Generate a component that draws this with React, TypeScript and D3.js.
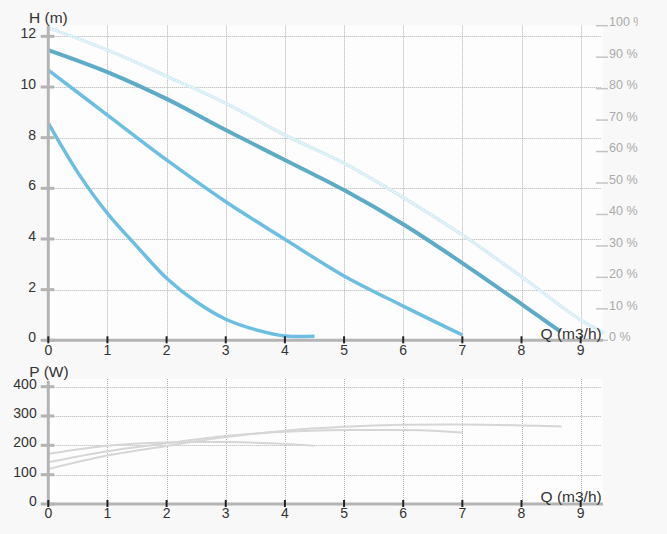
import React, { useEffect } from 'react';
import * as d3 from 'd3';

// ---- tick values ----
const qTicks = [0, 1, 2, 3, 4, 5, 6, 7, 8, 9];
const hTicks = [0, 2, 4, 6, 8, 10, 12];
const effTicks = [0, 10, 20, 30, 40, 50, 60, 70, 80, 90, 100];
const pTicks = [0, 100, 200, 300, 400];

// ---- head curves (Q m3/h, H m) ----
const hMaxQ = [0, 1, 2, 3, 4, 5, 6, 7, 8, 9, 9.41];
const hMaxH = [12.34, 11.46, 10.43, 9.36, 8.1, 6.99, 5.64, 4.16, 2.51, 0.8, 0.28];

const h3Q = [0, 1, 2, 3, 4, 5, 6, 7, 8, 8.66];
const h3H = [11.46, 10.59, 9.53, 8.3, 7.12, 5.93, 4.58, 3.05, 1.43, 0.34];

const h2Q = [0, 1, 2, 3, 4, 5, 6, 7];
const h2H = [10.67, 8.89, 7.12, 5.47, 3.99, 2.54, 1.35, 0.21];

const h1Q = [0, 0.5, 1, 1.5, 2, 2.5, 3, 3.5, 4, 4.5];
const h1H = [8.57, 6.62, 5.01, 3.7, 2.45, 1.52, 0.83, 0.42, 0.17, 0.16];

// ---- power curves (Q m3/h, P W) ----
const p3Q = [0, 1, 2, 3, 4, 5, 6, 7, 8, 8.68];
const p3P = [119, 165, 198, 228, 250, 263, 270, 271, 268, 264];

const p2Q = [0, 1, 2, 3, 4, 5, 6, 6.5, 7];
const p2P = [142, 180, 207, 232, 246, 252, 252, 250, 244];

const p1Q = [0, 1, 2, 3, 4, 4.5];
const p1P = [171, 199, 210, 211, 205, 199];

const FONT = '"Liberation Sans", Arial, sans-serif';

const zip = (a: number[], b: number[]) => a.map((v, i) => [v, b[i]] as [number, number]);
const snap = (v: number) => Math.round(v) + 0.5;

export default function App() {
  useEffect(() => {
    document.body.style.background = '#f8f8f8';
  }, []);

  const W = 630;
  const H = 526;
  const left = 40.3;
  const right = 595;
  const x = d3.scaleLinear().domain([0, 9]).range([left, left + 9 * 59.15]);

  const topT = 17.7;
  const topB = 332.3;
  const yH = d3.scaleLinear().domain([0, 12]).range([topB, topB - 12 * 25.33]);
  const yE = d3.scaleLinear().domain([0, 100]).range([topB, topT]);

  const botT = 371;
  const botB = 496;
  const yP = d3.scaleLinear().domain([0, 400]).range([botB, botB - 400 * 0.2933]);

  const lineH = d3
    .line<[number, number]>()
    .x((d) => x(d[0]))
    .y((d) => yH(d[1]))
    .curve(d3.curveCatmullRom.alpha(0.5));
  const lineP = d3
    .line<[number, number]>()
    .x((d) => x(d[0]))
    .y((d) => yP(d[1]))
    .curve(d3.curveCatmullRom.alpha(0.5));

  const gridColor = '#b0b0b0';
  const axisColor = '#b4b4b4';
  const textColor = '#333';

  const gridV = (t: number, b: number) =>
    qTicks
      .filter((q) => q > 0)
      .map((q) => (
        <line key={'gv' + q} x1={snap(x(q))} x2={snap(x(q))} y1={t} y2={b} stroke={gridColor} strokeWidth={1} strokeDasharray="1,1" />
      ));

  const xAxis = (y0: number, labelDy: number) => (
    <g>
      <line x1={left} x2={right} y1={y0} y2={y0} stroke={axisColor} strokeWidth={3} />
      {qTicks.map((q) => (
        <g key={'xt' + q}>
          <line x1={x(q)} x2={x(q)} y1={y0 - 4} y2={y0 + 3} stroke="#222" strokeWidth={2} />
          <text x={x(q)} y={y0 + labelDy} textAnchor="middle" fontSize={14} fill={textColor} fontFamily={FONT}>
            {q}
          </text>
        </g>
      ))}
    </g>
  );

  return (
    <svg width={W} height={H} style={{ display: 'block', overflow: 'hidden' }} fontFamily={FONT}>
      <rect x={0} y={0} width={W} height={H} fill="#f8f8f8" />

      {/* ---------- TOP CHART ---------- */}
      <rect x={left} y={topT} width={right - left} height={topB - topT} fill="#fdfdfd" />
      {gridV(topT, topB)}
      {hTicks
        .filter((h) => h > 0)
        .map((h) => (
          <line key={'gh' + h} x1={left} x2={593} y1={snap(yH(h))} y2={snap(yH(h))} stroke={gridColor} strokeWidth={1} strokeDasharray="1,1" />
        ))}

      {/* max / efficiency dotted curve */}
      <path d={lineH(zip(hMaxQ, hMaxH)) || ''} fill="none" stroke="#d3ebf5" strokeWidth={3.4} />
      <path d={lineH(zip(hMaxQ, hMaxH)) || ''} fill="none" stroke="#fbfdfe" strokeWidth={1.3} strokeDasharray="1.2,1.8" />

      <path d={lineH(zip(h1Q, h1H)) || ''} fill="none" stroke="#6cbfe2" strokeWidth={3.5} />
      <path d={lineH(zip(h2Q, h2H)) || ''} fill="none" stroke="#6cbfe2" strokeWidth={3.5} />
      <path d={lineH(zip(h3Q, h3H)) || ''} fill="none" stroke="#5eabc8" strokeWidth={4} />

      {/* left axis */}
      <line x1={left} x2={left} y1={topT} y2={topB} stroke={axisColor} strokeWidth={3} />
      {hTicks.map((h) => (
        <g key={'yt' + h}>
          <line x1={32.7} x2={46.3} y1={yH(h)} y2={yH(h)} stroke={axisColor} strokeWidth={3} />
          <text x={28} y={yH(h) - 3} dy="0.35em" textAnchor="end" fontSize={14} fill={textColor}>
            {h}
          </text>
        </g>
      ))}
      <text x={21} y={14.5} fontSize={15.5} fill={textColor}>
        H (m)
      </text>

      {/* right axis (%) */}
      {effTicks.map((e) => (
        <g key={'et' + e}>
          <line x1={588} x2={600} y1={yE(e)} y2={yE(e)} stroke="#c4c4c4" strokeWidth={1.5} />
          <text x={601} y={yE(e) + 0.7} fontSize={12.5} fill="#aaa">
            {e + ' %'}
          </text>
        </g>
      ))}

      {xAxis(topB, 14.7)}
      <text x={593.7} y={331} textAnchor="end" fontSize={15.5} fill={textColor}>
        Q (m3/h)
      </text>

      {/* ---------- BOTTOM CHART ---------- */}
      <rect x={left} y={botT} width={right - left} height={botB - botT} fill="#fdfdfd" />
      {gridV(botT, botB)}
      {pTicks
        .filter((p) => p > 0)
        .map((p) => (
          <line key={'gp' + p} x1={left} x2={593} y1={snap(yP(p))} y2={snap(yP(p))} stroke={gridColor} strokeWidth={1} strokeDasharray="1,1" />
        ))}

      <path d={lineP(zip(p1Q, p1P)) || ''} fill="none" stroke="#d6d6d6" strokeWidth={2} />
      <path d={lineP(zip(p2Q, p2P)) || ''} fill="none" stroke="#d6d6d6" strokeWidth={2} />
      <path d={lineP(zip(p3Q, p3P)) || ''} fill="none" stroke="#d6d6d6" strokeWidth={2} />

      <line x1={left} x2={left} y1={372.7} y2={botB} stroke={axisColor} strokeWidth={3} />
      {pTicks.map((p) => (
        <g key={'pt' + p}>
          <line x1={32.7} x2={46.3} y1={yP(p)} y2={yP(p)} stroke={axisColor} strokeWidth={3} />
          <text x={28.7} y={yP(p) - 3} dy="0.35em" textAnchor="end" fontSize={14} fill={textColor}>
            {p}
          </text>
        </g>
      ))}
      <text x={21.3} y={368.5} fontSize={15.5} fill={textColor}>
        P (W)
      </text>

      {xAxis(botB, 14.3)}
      <text x={593.7} y={493.5} textAnchor="end" fontSize={15.5} fill={textColor}>
        Q (m3/h)
      </text>
    </svg>
  );
}
